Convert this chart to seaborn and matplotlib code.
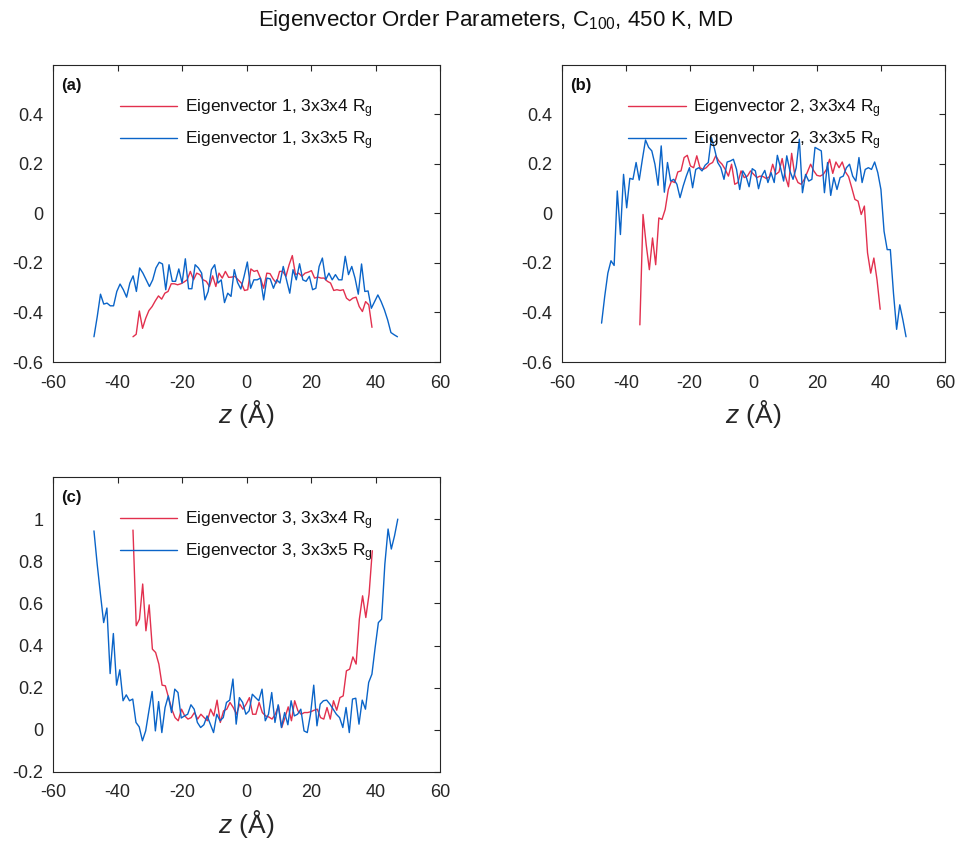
import numpy as np
import pandas as pd
import matplotlib
matplotlib.use("Agg")
import matplotlib.pyplot as plt
import seaborn as sns

# ---------------- data ----------------
# Panel (a): eigenvector 1
a_red_range = (-35.2, 38.9)
a_red = [-0.498, -0.488, -0.394, -0.464, -0.423, -0.392, -0.376, -0.353, -0.333, -0.346,
         -0.322, -0.315, -0.284, -0.284, -0.288, -0.284, -0.277, -0.268, -0.234, -0.268,
         -0.241, -0.247, -0.268, -0.274, -0.295, -0.252, -0.295, -0.241, -0.261, -0.234,
         -0.258, -0.257, -0.254, -0.268, -0.281, -0.311, -0.308, -0.224, -0.234, -0.230,
         -0.261, -0.302, -0.241, -0.243, -0.265, -0.281, -0.234, -0.234, -0.254, -0.207,
         -0.170, -0.247, -0.241, -0.254, -0.241, -0.237, -0.231, -0.261, -0.257, -0.261,
         -0.261, -0.274, -0.281, -0.311, -0.308, -0.311, -0.308, -0.342, -0.352, -0.342,
         -0.338, -0.376, -0.396, -0.356, -0.369, -0.460]
a_blue_range = (-47.3, 46.8)
a_blue = [-0.498, -0.417, -0.326, -0.366, -0.362, -0.373, -0.373, -0.315, -0.285, -0.308,
          -0.338, -0.281, -0.252, -0.315, -0.220, -0.241, -0.268, -0.295, -0.268, -0.220,
          -0.197, -0.204, -0.308, -0.207, -0.274, -0.274, -0.224, -0.281, -0.183, -0.304,
          -0.304, -0.207, -0.220, -0.241, -0.349, -0.315, -0.227, -0.207, -0.281, -0.268,
          -0.360, -0.322, -0.335, -0.227, -0.279, -0.305, -0.254, -0.196, -0.302, -0.268,
          -0.268, -0.261, -0.349, -0.261, -0.264, -0.302, -0.268, -0.281, -0.214, -0.268,
          -0.322, -0.227, -0.268, -0.203, -0.268, -0.274, -0.254, -0.308, -0.302, -0.214,
          -0.180, -0.268, -0.241, -0.268, -0.247, -0.268, -0.268, -0.173, -0.247, -0.214,
          -0.261, -0.326, -0.204, -0.315, -0.313, -0.383, -0.356, -0.329, -0.356, -0.389,
          -0.430, -0.481, -0.490, -0.498]

# Panel (b): eigenvector 2
b_red_range = (-35.6, 39.7)
b_red = [-0.450, -0.004, -0.126, -0.227, -0.099, -0.207, -0.018, -0.024, 0.016, 0.097,
         0.131, 0.125, 0.168, 0.172, 0.226, 0.235, 0.192, 0.185, 0.233, 0.185,
         0.178, 0.185, 0.199, 0.206, 0.233, 0.212, 0.199, 0.178, 0.151, 0.199,
         0.118, 0.125, 0.172, 0.145, 0.151, 0.172, 0.158, 0.145, 0.151,
         0.149, 0.141, 0.149, 0.199, 0.158, 0.168, 0.222, 0.151, 0.108, 0.243,
         0.154, 0.125, 0.118, 0.138, 0.168, 0.199, 0.172, 0.154, 0.151, 0.158,
         0.178, 0.219, 0.162, 0.208, 0.185, 0.208, 0.168, 0.149, 0.104, 0.057,
         0.050, -0.004, 0.030, -0.159, -0.241, -0.180, -0.268, -0.387]
b_blue_range = (-47.6, 47.8)
b_blue = [-0.443, -0.335, -0.241, -0.191, -0.210, 0.091, -0.085, 0.158, 0.023, 0.142,
          0.138, 0.206, 0.135, 0.219, 0.297, 0.267, 0.253, 0.199, 0.114, 0.273,
          0.086, 0.206, 0.131, 0.138, 0.118, 0.064, 0.111, 0.151, 0.185, 0.104,
          0.178, 0.185, 0.172, 0.195, 0.206, 0.307, 0.260, 0.206, 0.185, 0.138,
          0.208, 0.212, 0.219, 0.178, 0.097, 0.172, 0.151, 0.108, 0.181, 0.172,
          0.100, 0.151,
          0.174, 0.125, 0.165, 0.125, 0.235, 0.185, 0.131, 0.233,
          0.172, 0.138, 0.185, 0.300, 0.084, 0.158, 0.131, 0.138, 0.267, 0.260,
          0.253, 0.084, 0.206, 0.073, 0.145, 0.097, 0.145, 0.151, 0.185, 0.199,
          0.151, 0.131, 0.226, 0.125, 0.178, 0.185, 0.178, 0.208, 0.165, 0.097,
          -0.072, -0.146, -0.146, -0.322, -0.468, -0.369, -0.430, -0.498]

# Panel (c): eigenvector 3
c_red_range = (-35.2, 39.0)
c_red = [0.948, 0.494, 0.525, 0.692, 0.470, 0.593, 0.383, 0.367, 0.312, 0.212,
         0.209, 0.153, 0.098, 0.058, 0.043, 0.098, 0.066, 0.051, 0.058, 0.082,
         0.051, 0.074, 0.058, 0.043, 0.098, 0.066, 0.141, 0.035, 0.090, 0.098,
         0.130, 0.106, 0.074, 0.122, 0.098, 0.122, 0.153, 0.074, 0.074,
         0.130, 0.082, 0.066, 0.061, 0.051, 0.074, 0.114, 0.011, 0.058, 0.109,
         0.043, 0.138, 0.090, 0.074, 0.082, 0.082, 0.086, 0.093, 0.098, 0.058,
         0.051, 0.106, 0.051, 0.138, 0.093, 0.153, 0.161, 0.280, 0.288, 0.346,
         0.312, 0.525, 0.636, 0.533, 0.644, 0.850]
c_blue_range = (-47.3, 46.9)
c_blue = [0.944, 0.786, 0.644, 0.509, 0.578, 0.267, 0.457, 0.212, 0.285, 0.138,
          0.166, 0.138, 0.146, 0.035, 0.014, -0.052, -0.005, 0.090, 0.182, -0.005,
          0.134, -0.013, 0.106, 0.161, 0.082, 0.193, 0.177, 0.056, 0.066, 0.074,
          0.119, 0.098, 0.035, 0.011, 0.024, 0.066, 0.027, -0.013, 0.074, 0.043,
          0.058, 0.130, 0.141, 0.241, 0.027, 0.153, 0.130, 0.074, 0.090, 0.169,
          0.153,
          0.138, 0.193, 0.043, 0.074, 0.177, 0.035, 0.119, 0.011, 0.082,
          0.024, 0.138, 0.066, 0.074, 0.098, -0.005, -0.013, 0.074, 0.212, 0.019,
          0.122, 0.138, 0.141, 0.122, 0.098, 0.074, 0.058, 0.011, 0.106, -0.013,
          0.146, 0.150, 0.027, 0.141, 0.098, 0.225, 0.264, 0.391, 0.509, 0.525,
          0.786, 0.953, 0.858, 0.921, 1.000]

panel_labels = ["(a)", "(b)", "(c)"]
series_names = [("Eigenvector 1, 3x3x4 R$\\mathregular{_g}$", "Eigenvector 1, 3x3x5 R$\\mathregular{_g}$"),
                ("Eigenvector 2, 3x3x4 R$\\mathregular{_g}$", "Eigenvector 2, 3x3x5 R$\\mathregular{_g}$"),
                ("Eigenvector 3, 3x3x4 R$\\mathregular{_g}$", "Eigenvector 3, 3x3x5 R$\\mathregular{_g}$")]
xticks = [-60, -40, -20, 0, 20, 40, 60]
xticklabels = ["-60", "-40", "-20", "0", "20", "40", "60"]
yticks_ab = [-0.6, -0.4, -0.2, 0, 0.2, 0.4]
yticklabels_ab = ["-0.6", "-0.4", "-0.2", "0", "0.2", "0.4"]
yticks_c = [-0.2, 0, 0.2, 0.4, 0.6, 0.8, 1]
yticklabels_c = ["-0.2", "0", "0.2", "0.4", "0.6", "0.8", "1"]
title = "Eigenvector Order Parameters, C$\\mathregular{_{100}}$, 450 K, MD"
xlabel = "$\\mathit{z}$ (Å)"

RED = "#E2304E"
BLUE = "#0A64C8"

# ---------------- style ----------------
sns.set_theme(style="white")
plt.rcParams.update({
    "font.family": ["Liberation Sans", "DejaVu Sans"],
    "mathtext.fontset": "custom",
    "mathtext.rm": "Liberation Sans",
    "mathtext.it": "Liberation Sans:italic",
    "mathtext.bf": "Liberation Sans:bold",
    "axes.edgecolor": "#262626",
    "axes.linewidth": 0.8,
})

fig = plt.figure(figsize=(9.62, 8.46), dpi=100)
positions = [
    [0.0551, 0.5721, 0.4023, 0.3511],
    [0.5842, 0.5721, 0.3981, 0.3511],
    [0.0551, 0.0875, 0.4023, 0.3487],
]
data = [
    (a_red, a_red_range, a_blue, a_blue_range),
    (b_red, b_red_range, b_blue, b_blue_range),
    (c_red, c_red_range, c_blue, c_blue_range),
]

for i, (pos, (rv, rr, bv, br)) in enumerate(zip(positions, data)):
    ax = fig.add_axes(pos)
    rname, bname = series_names[i]
    df = pd.concat([
        pd.DataFrame({"z": np.linspace(rr[0], rr[1], len(rv)), "v": rv, "s": rname}),
        pd.DataFrame({"z": np.linspace(br[0], br[1], len(bv)), "v": bv, "s": bname}),
    ])
    sns.lineplot(data=df, x="z", y="v", hue="s", palette=[RED, BLUE],
                 linewidth=1.0, ax=ax, legend=True)
    ax.set_xlim(-60, 60)
    ax.set_xticks(xticks)
    ax.set_xticklabels(xticklabels)
    if i < 2:
        ax.set_ylim(-0.6, 0.6)
        ax.set_yticks(yticks_ab)
        ax.set_yticklabels(yticklabels_ab)
    else:
        ax.set_ylim(-0.2, 1.2)
        ax.set_yticks(yticks_c)
        ax.set_yticklabels(yticklabels_c)
    ax.tick_params(direction="in", top=True, right=True, length=4, width=0.8,
                   labelsize=13, colors="#262626")
    ax.tick_params(axis="x", pad=9)
    ax.tick_params(axis="y", pad=7)
    for sp in ax.spines.values():
        sp.set_visible(True)
        sp.set_color("#262626")
    ax.set_ylabel("")
    ax.set_xlabel(xlabel, fontsize=19, labelpad=5, color="#262626")
    ax.text(0.022, 0.955, panel_labels[i], transform=ax.transAxes,
            fontsize=12, fontweight="bold", va="top", ha="left", color="#111111")
    handles, labels = ax.get_legend_handles_labels()
    ax.legend(handles, labels, loc="upper left", bbox_to_anchor=(0.155, 0.915),
              frameon=False, fontsize=12.5, handlelength=3.3, handletextpad=0.45,
              labelspacing=0.55, borderaxespad=0, labelcolor="#111111")

fig.suptitle(title, fontsize=16, x=0.515, y=0.99, color="#111111")
fig.savefig("out.png", dpi=100)
